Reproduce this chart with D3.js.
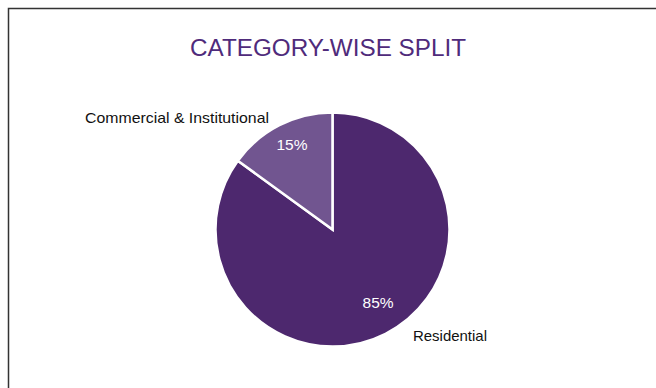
<!DOCTYPE html>
<html>
<head>
<meta charset="utf-8">
<script src="https://cdn.jsdelivr.net/npm/d3@7"></script>
<style>
  html, body { margin: 0; padding: 0; background: #fff; }
  svg { display: block; }
</style>
</head>
<body>
<svg id="chart" width="656" height="388"></svg>
<script>
// Category split data
const categories = ["Residential", "Commercial & Institutional"];
const shares = [85, 15];
const shareLabels = ["85%", "15%"];
const sliceColors = ["#4d286e", "#715590"];
const chartTitle = "CATEGORY-WISE SPLIT";

const svg = d3.select("#chart");
const W = 656, H = 388;
const FONT = "Liberation Sans, Arial, Helvetica, sans-serif";

// Frame (open on the right and bottom edges)
svg.append("path")
  .attr("d", `M8.5,${H} L8.5,8.5 L${W},8.5`)
  .attr("fill", "none")
  .attr("stroke", "#333")
  .attr("stroke-width", 1.5);

// Title
svg.append("text")
  .attr("x", 190)
  .attr("y", 56)
  .attr("textLength", 276)
  .attr("lengthAdjust", "spacingAndGlyphs")
  .attr("font-family", FONT)
  .attr("font-size", 23.5)
  .attr("fill", "#4f2b7b")
  .text(chartTitle);

const cx = 332.5, cy = 229.5, r = 117;
const g = svg.append("g").attr("transform", `translate(${cx},${cy})`);

const data = categories.map((c, i) => ({ name: c, value: shares[i], label: shareLabels[i], color: sliceColors[i] }));

const pie = d3.pie().value(d => d.value).sort(null);
const arcs = pie(data);
const arc = d3.arc().innerRadius(0).outerRadius(r);

g.selectAll("path.slice")
  .data(arcs)
  .join("path")
  .attr("class", "slice")
  .attr("d", arc)
  .attr("fill", d => d.data.color)
  .attr("stroke", "#fff")
  .attr("stroke-width", 2.5)
  .attr("stroke-linejoin", "miter");

// Percentage labels inside slices, placed along each slice's mid-angle
const pctRadius = [0.68, 0.83];
const pctNudge = [[9.5, 2.5], [3.5, 1.5]];
g.selectAll("text.pct")
  .data(arcs)
  .join("text")
  .attr("class", "pct")
  .attr("transform", (d, i) => {
    const a = (d.startAngle + d.endAngle) / 2;
    const rr = r * pctRadius[i];
    const x = Math.sin(a) * rr + pctNudge[i][0];
    const y = -Math.cos(a) * rr + pctNudge[i][1];
    return `translate(${x},${y})`;
  })
  .attr("text-anchor", "middle")
  .attr("dy", "0.35em")
  .attr("font-family", FONT)
  .attr("font-size", 15.5)
  .attr("fill", "#fff")
  .text(d => d.data.label);

// Category labels outside
svg.append("text")
  .attr("x", 413)
  .attr("y", 341)
  .attr("textLength", 74)
  .attr("lengthAdjust", "spacingAndGlyphs")
  .attr("font-family", FONT)
  .attr("font-size", 15)
  .attr("fill", "#111")
  .text(categories[0]);

svg.append("text")
  .attr("x", 85)
  .attr("y", 122.5)
  .attr("textLength", 184)
  .attr("lengthAdjust", "spacingAndGlyphs")
  .attr("font-family", FONT)
  .attr("font-size", 15)
  .attr("fill", "#111")
  .text(categories[1]);
</script>
</body>
</html>
